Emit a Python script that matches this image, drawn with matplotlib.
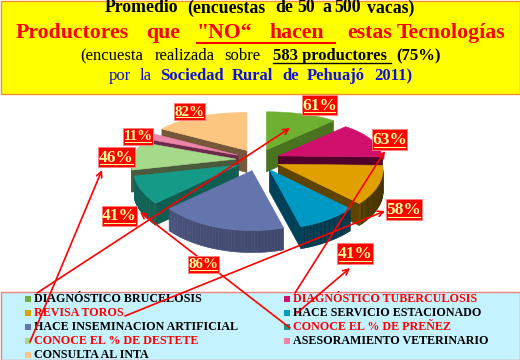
#!/usr/bin/env python3
import numpy as np
import matplotlib
matplotlib.use("Agg")
import matplotlib.pyplot as plt
from matplotlib.colors import to_rgb
from matplotlib.patches import Polygon, Rectangle

plt.rcParams["font.family"] = ["Liberation Serif", "DejaVu Serif"]

categories = [
    "DIAGNÓSTICO BRUCELOSIS", "DIAGNÓSTICO TUBERCULOSIS", "REVISA TOROS",
    "HACE SERVICIO ESTACIONADO", "HACE INSEMINACION ARTIFICIAL",
    "CONOCE EL % DE PREÑEZ", "CONOCE EL % DE DESTETE",
    "ASESORAMIENTO VETERINARIO", "CONSULTA AL INTA",
]
values = [61, 63, 58, 41, 86, 41, 46, 11, 82]
top_colors = ["#70b030", "#d0106c", "#e0a000", "#0099c4", "#6475ad",
              "#159a88", "#a6d98a", "#ec85a8", "#fcc680"]
wall_colors = ["#4a7320", "#50002a", "#5e4400", "#004058", "#465078",
               "#0f5c50", "#4a5a3c", "#6e2a4a", "#75583a"]
legend_colors = ["black", "red", "red", "black", "black", "red", "red", "black", "black"]

# label box: left, top, width, height (pixels)
label_boxes = [(302, 95, 35, 20), (372, 129, 35, 21), (386, 199, 36, 21), (337, 243, 36, 21),
               (188, 256, 31, 17), (102, 206, 35, 20), (98, 147, 37, 20), (123, 128, 30, 17),
               (174, 103, 31, 17)]
# arrows: tail in the legend, head near the slice
arrows = [((37, 293), (290, 128)), ((295, 293), (385, 151)), ((125, 316), (385, 211)),
          ((297, 313), (350, 268)), ((290, 328), (140, 212)), ((30, 342), (102, 170))]

CX, CY, RX, RY, DEPTH = 258, 160, 104, 49, 22


def project(theta):
    x, y = np.sin(theta), -np.cos(theta)
    return RX * x * (1 + 0.12 * y), RY * y * (1 + 0.224 * y)


def draw_slice(ax, a0, a1, top, wall):
    mid = (a0 + a1) / 2
    ox = CX + 22 * np.sin(mid)
    oy = CY - 11 * np.cos(mid)
    px, py = project(np.linspace(a0, a1, 40))
    xs = np.r_[ox, ox + px]
    ys = np.r_[oy, oy + py]
    n = len(xs)
    wall_rgb = np.array(to_rgb(wall))
    for i in sorted(range(n), key=lambda k: ys[k] + ys[(k + 1) % n]):
        j = (i + 1) % n
        dx, dy = xs[j] - xs[i], ys[j] - ys[i]
        nx, ny = dy, -dx
        if ny <= 0:
            continue
        shade = 1.0
        if 0 < i < n - 2:
            shade = 1.12 - 0.32 * (nx / (np.hypot(nx, ny) + 1e-9) + 1) / 2 * 1.2
        c = np.clip(wall_rgb * shade, 0, 1)
        ax.add_patch(Polygon([(xs[i], ys[i]), (xs[j], ys[j]),
                              (xs[j], ys[j] + DEPTH), (xs[i], ys[i] + DEPTH)],
                             closed=True, fc=c, ec=c, lw=0.4, zorder=2))
    ax.add_patch(Polygon(np.c_[xs, ys], closed=True, fc=top, ec=top, lw=0.4, zorder=2))


def run(ax, x, y, s, size, color="black", weight="bold"):
    ax.text(x, y, s, fontsize=size, color=color, fontweight=weight, ha="left", va="center", zorder=6)


fig = plt.figure(figsize=(5.2, 3.6), dpi=100)
ax = fig.add_axes([0, 0, 1, 1])
ax.set_xlim(0, 520)
ax.set_ylim(360, 0)
ax.axis("off")

ax.add_patch(Rectangle((0.5, 0.5), 519, 93.5, fc="#ffff00", ec="#f09030", lw=1, zorder=1))
ax.add_patch(Rectangle((0.5, 292), 519, 68, fc="#c4f3ff", ec="#f08080", lw=1, zorder=1))

# header, word by word since the original has uneven gaps
for x, word in [(105, "Promedio"), (187, "(encuestas"), (275, "de"), (297, "50"),
                (322, "a"), (334, "500"), (367, "vacas)")]:
    run(ax, x, 8, word, 12.8)
for x, word in [(16, "Productores"), (146, "que"), (197, "\"NO“"), (270, "hacen"),
                (347, "estas"), (397, "Tecnologías")]:
    run(ax, x, 33, word, 15.7, "red")
ax.plot([197, 335], [43, 43], color="red", lw=1.5, zorder=6)
for x, word in [(80, "(encuesta"), (155, "realizada"), (224, "sobre")]:
    run(ax, x, 56, word, 12, weight="normal")
run(ax, 273, 56, "583 productores", 12)
ax.plot([273, 391], [63, 63], color="black", lw=1, zorder=6)
run(ax, 396, 56, "(75%)", 12)
for x, word in [(109, "por"), (140, "la")]:
    run(ax, x, 76, word, 12, "#1010e0", "normal")
for x, word in [(160, "Sociedad"), (232, "Rural"), (282, "de"), (307, "Pehuajó"), (374, "2011)")]:
    run(ax, x, 76, word, 12, "#1010e0")

# pie, back slices first
edges = np.r_[0, np.cumsum(values)] / np.sum(values) * 2 * np.pi
for i in sorted(range(len(values)), key=lambda k: np.cos((edges[k] + edges[k + 1]) / 2), reverse=True):
    draw_slice(ax, edges[i], edges[i + 1], top_colors[i], wall_colors[i])

# legend
for i, name in enumerate(categories):
    y = 299 + (i // 2) * 14
    mx = 25 if i % 2 == 0 else 284
    ax.add_patch(Rectangle((mx, y - 3), 6, 6, fc=top_colors[i], ec="none", zorder=3))
    ax.text(mx + 9, y, name, fontsize=8.65, fontweight="bold", color=legend_colors[i],
            ha="left", va="center", zorder=4)

# percent labels
for (x, y, w, h), v in zip(label_boxes, values):
    ax.add_patch(Rectangle((x, y), w, h, fc="#ff0000", ec="#ff8080", lw=0.6, zorder=7))
    size = 12.5 if h > 18 else 10.8
    ax.text(x + w / 2, y + h / 2 + 0.5, f"{v}%", fontsize=size, fontweight="bold", color="#ffff90",
            ha="center", va="center", zorder=8)
    ax.plot([x + 2, x + w - 2], [y + h - 3, y + h - 3], color="#ffff90", lw=0.8, zorder=8)

for tail, head in arrows:
    ax.annotate("", xy=head, xytext=tail, zorder=5,
                arrowprops=dict(arrowstyle="->", color="red", lw=1.2, shrinkA=0, shrinkB=0,
                                mutation_scale=10))

fig.savefig("out.png", dpi=100, facecolor="white")
plt.close(fig)
